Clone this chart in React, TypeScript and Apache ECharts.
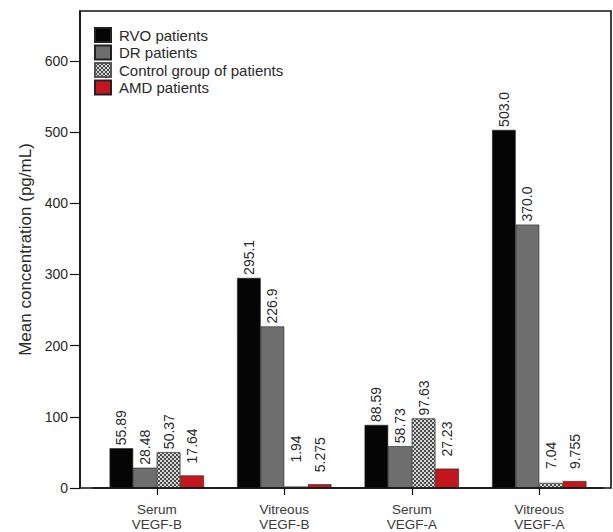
import React, { useEffect, useRef } from "react";
import * as echarts from "echarts";

const categories = ["Serum\nVEGF-B", "Vitreous\nVEGF-B", "Serum\nVEGF-A", "Vitreous\nVEGF-A"];
const seriesNames = ["RVO patients", "DR patients", "Control group of patients", "AMD patients"];
// values as printed above each bar
const rvoValues = ["55.89", "295.1", "88.59", "503.0"];
const drValues = ["28.48", "226.9", "58.73", "370.0"];
const controlValues = ["50.37", "1.94", "97.63", "7.04"];
const amdValues = ["17.64", "5.275", "27.23", "9.755"];
const yTicks = { min: 0, max: 670, interval: 100 };

const FONT = "'Liberation Sans', Arial, Helvetica, sans-serif";
const TEXT = "#2a2a2a";

// plot frame geometry (px)
const FRAME = { left: 80, top: 11, right: 611, bottom: 488 };
const GRID = { left: 93, right: 10, top: FRAME.top, bottom: 532 - FRAME.bottom };

export default function App() {
  const ref = useRef<HTMLDivElement>(null);

  useEffect(() => {
    if (!ref.current) return;
    const chart = echarts.init(ref.current, null, { renderer: "svg" });

    const allValues = [rvoValues, drValues, controlValues, amdValues];
    const colors = ["#050505", "#6e6e6e", "#d8d8d8", "#c3161d"];

    const labelDistance = (si: number, v: number) => {
      if (si === 3) return 12;
      if (si === 2 && v < 5) return 24;
      if (si === 2 && v < 10) return 14;
      return 3;
    };

    const series = allValues.map((vals, si) => ({
      name: seriesNames[si],
      type: "bar",
      barGap: "0%",
      barCategoryGap: "26%",
      itemStyle: {
        color: colors[si],
        borderColor: si === 2 ? "#555" : "#222",
        borderWidth: 0.6,
        ...(si === 2
          ? {
              decal: {
                symbol: "rect",
                symbolSize: 1,
                color: "#4a4a4a",
                dashArrayX: [
                  [2, 2],
                  [0, 2, 2, 0],
                ],
                dashArrayY: [2, 0],
                rotation: 0,
              },
            }
          : {}),
      },
      data: vals.map((s) => {
        const v = parseFloat(s);
        return {
          value: v,
          label: {
            show: true,
            position: "top",
            rotate: 90,
            align: "left",
            verticalAlign: "middle",
            distance: labelDistance(si, v),
            formatter: () => s,
            fontFamily: FONT,
            fontSize: 14,
            color: TEXT,
          },
        };
      }),
    }));

    chart.setOption({
      animation: false,
      aria: { decal: { show: false } },
      textStyle: { fontFamily: FONT },
      legend: {
        data: seriesNames,
        orient: "vertical",
        left: 89,
        top: 22,
        itemWidth: 16,
        itemHeight: 14,
        itemGap: 1.5,
        icon: "rect",
        textStyle: { fontFamily: FONT, fontSize: 15, color: TEXT, padding: [0, 0, 0, 3] },
        selectedMode: false,
      },
      grid: GRID,
      xAxis: {
        type: "category",
        data: categories,
        axisLine: { show: true, lineStyle: { color: "#111", width: 1.5 } },
        axisTick: { show: true, alignWithLabel: true, length: 7, lineStyle: { color: "#111", width: 1.2 } },
        axisLabel: {
          fontFamily: FONT,
          fontSize: 13.5,
          lineHeight: 15,
          color: "#3a3a3a",
          margin: 14,
        },
      },
      yAxis: {
        type: "value",
        min: yTicks.min,
        max: yTicks.max,
        interval: yTicks.interval,
        offset: GRID.left - FRAME.left,
        name: "Mean concentration (pg/mL)",
        nameLocation: "middle",
        nameRotate: 90,
        nameGap: 46,
        nameTextStyle: { fontFamily: FONT, fontSize: 17, color: TEXT },
        splitLine: { show: false },
        axisLine: { show: true, lineStyle: { color: "#111", width: 1.5 } },
        axisTick: { show: true, length: 10, lineStyle: { color: "#111", width: 1.2 } },
        axisLabel: {
          fontFamily: FONT,
          fontSize: 14,
          color: TEXT,
          margin: 12,
          showMaxLabel: false,
        },
      },
      graphic: [
        {
          type: "rect",
          silent: true,
          z: 100,
          shape: {
            x: FRAME.left,
            y: FRAME.top,
            width: FRAME.right - FRAME.left,
            height: FRAME.bottom - FRAME.top,
          },
          style: { fill: "none", stroke: "#111", lineWidth: 1.6 },
        },
      ],
      series,
    });

    return () => chart.dispose();
  }, []);

  return (
    <div
      ref={ref}
      style={{ position: "fixed", left: 0, top: 0, width: 613, height: 532, background: "#fff" }}
    />
  );
}
